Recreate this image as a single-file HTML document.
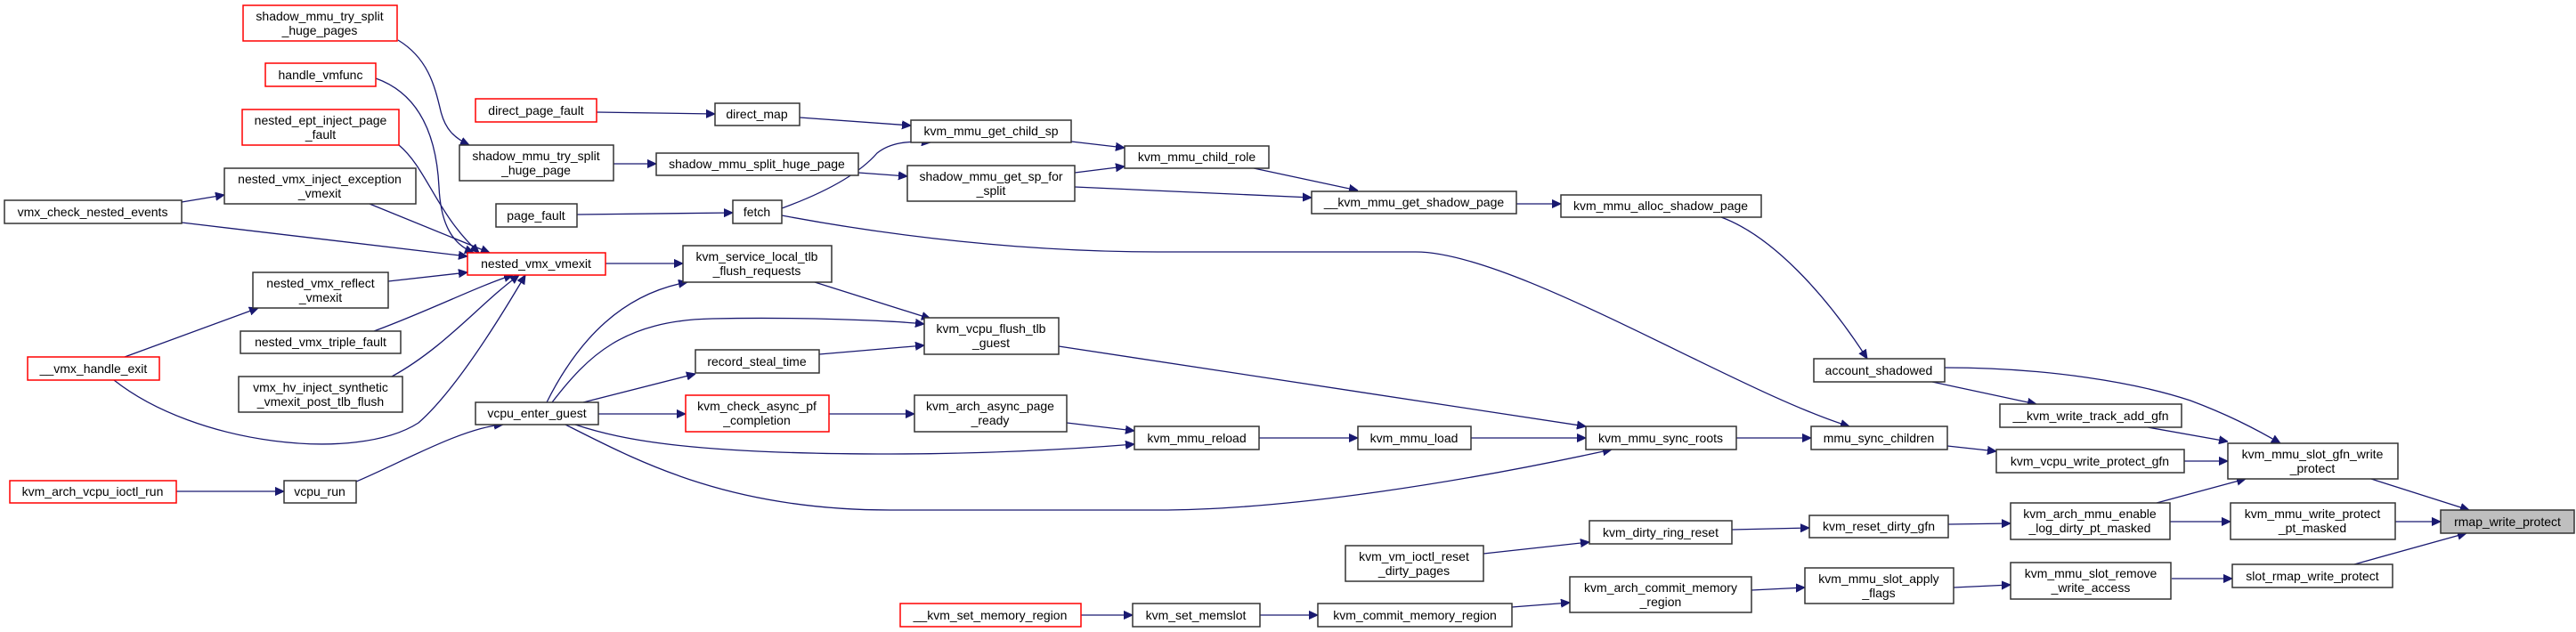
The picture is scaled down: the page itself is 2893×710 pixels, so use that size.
<!DOCTYPE html>
<html><head><meta charset="utf-8">
<style>
html,body{margin:0;padding:0;background:#fff;}
svg{display:block;}
text{font-family:"Liberation Sans",sans-serif;font-size:14px;fill:#000;text-anchor:middle;}
.n{fill:#fff;stroke:#333;stroke-width:1.5;}
.r{fill:#fff;stroke:#ff0000;stroke-width:1.5;}
.g{fill:#bfbfbf;stroke:#333;stroke-width:1.5;}
path{fill:none;stroke:#191970;stroke-width:1.3;}
</style></head><body>
<svg width="2893" height="710" viewBox="0 0 2893 710" xmlns="http://www.w3.org/2000/svg">
<defs><marker id="a" viewBox="0 0 10 10" refX="10" refY="5" markerWidth="10" markerHeight="10" markerUnits="userSpaceOnUse" orient="auto"><path d="M0,0.5 L10,5 L0,9.5 z" style="fill:#191970;stroke:#191970;stroke-width:1"/></marker></defs>

<!-- edges -->
<g marker-end="url(#a)">
<path d="M447,45 C480,65 488,95 495,125 C500,145 510,155 527,163"/>
<path d="M422,88 C470,105 490,150 493,210 C495,255 510,275 532,284"/>
<path d="M448,163 C480,190 490,240 538,284"/>
<path d="M204,227 L252,219"/>
<path d="M204,250 L525,288"/>
<path d="M415,229 L550,284"/>
<path d="M436,316 L525,306"/>
<path d="M140,401 L290,346"/>
<path d="M420,372 C480,350 540,320 576,309"/>
<path d="M440,423 C500,390 540,340 583,309"/>
<path d="M128,427 C220,500 400,520 470,475 C510,440 560,360 590,309"/>
<path d="M680,296 L767,296"/>
<path d="M670,126 L803,128"/>
<path d="M898,132 L1023,141"/>
<path d="M689,184 L737,184"/>
<path d="M964,194 L1019,198"/>
<path d="M648,241 L823,239"/>
<path d="M878,234 C930,215 965,195 985,172 C1000,160 1020,158 1045,160"/>
<path d="M878,242 C1000,265 1150,283 1300,283 L1590,283 C1700,283 1950,440 2077,479"/>
<path d="M1203,159 L1263,166"/>
<path d="M1207,194 L1263,187"/>
<path d="M1207,210 L1473,222"/>
<path d="M1408,189 L1525,214"/>
<path d="M1703,229 L1753,229"/>
<path d="M1933,244 C1990,265 2050,330 2097,403"/>
<path d="M915,317 L1045,358"/>
<path d="M614,452 C650,380 700,330 772,317"/>
<path d="M620,452 C660,400 700,360 800,358 C900,356 1000,360 1038,364"/>
<path d="M655,452 L781,420"/>
<path d="M920,398 L1038,388"/>
<path d="M672,465 L770,465"/>
<path d="M931,465 L1027,465"/>
<path d="M1198,475 L1274,484"/>
<path d="M646,477 C700,495 780,510 1000,510 C1100,510 1200,505 1274,499"/>
<path d="M635,477 C720,520 820,573 1000,573 L1300,573 C1450,573 1650,540 1810,505"/>
<path d="M1189,389 L1781,479"/>
<path d="M1414,492 L1525,492"/>
<path d="M1652,492 L1781,492"/>
<path d="M1950,492 L2034,492"/>
<path d="M198,552 L319,552"/>
<path d="M400,541 C450,520 520,480 565,477"/>
<path d="M2184,413 C2300,413 2400,430 2460,450 C2500,465 2530,480 2561,498"/>
<path d="M2170,429 L2287,454"/>
<path d="M2412,480 L2502,496"/>
<path d="M2187,501 L2242,507"/>
<path d="M2453,518 L2502,518"/>
<path d="M2422,565 L2522,538"/>
<path d="M2437,586 L2505,586"/>
<path d="M2663,538 L2773,573"/>
<path d="M2690,586 L2741,586"/>
<path d="M2644,634 L2770,599"/>
<path d="M2439,650 L2507,650"/>
<path d="M1945,595 L2032,593"/>
<path d="M2188,589 L2258,588"/>
<path d="M1666,622 L1785,609"/>
<path d="M1967,663 L2027,660"/>
<path d="M2194,660 L2258,657"/>
<path d="M1214,691 L1272,691"/>
<path d="M1415,691 L1480,691"/>
<path d="M1698,682 L1763,677"/>
</g>

<!-- nodes -->
<rect class="r" x="273" y="6" width="173" height="40"/><text x="359" y="23">shadow_mmu_try_split</text><text x="359" y="39">_huge_pages</text>
<rect class="r" x="298" y="71" width="124" height="26"/><text x="360" y="89">handle_vmfunc</text>
<rect class="r" x="272" y="123" width="176" height="40"/><text x="360" y="140">nested_ept_inject_page</text><text x="360" y="156">_fault</text>
<rect class="r" x="534" y="111" width="136" height="26"/><text x="602" y="129">direct_page_fault</text>
<rect class="n" x="803" y="116" width="95" height="25"/><text x="850" y="133">direct_map</text>
<rect class="n" x="516" y="163" width="173" height="40"/><text x="602" y="180">shadow_mmu_try_split</text><text x="602" y="196">_huge_page</text>
<rect class="n" x="737" y="172" width="227" height="25"/><text x="850" y="189">shadow_mmu_split_huge_page</text>
<rect class="n" x="252" y="189" width="215" height="40"/><text x="359" y="206">nested_vmx_inject_exception</text><text x="359" y="222">_vmexit</text>
<rect class="n" x="5" y="225" width="199" height="26"/><text x="104" y="243">vmx_check_nested_events</text>
<rect class="n" x="557" y="229" width="91" height="26"/><text x="602" y="247">page_fault</text>
<rect class="n" x="823" y="225" width="55" height="26"/><text x="850" y="243">fetch</text>
<rect class="r" x="525" y="284" width="155" height="25"/><text x="602" y="301">nested_vmx_vmexit</text>
<rect class="n" x="767" y="276" width="167" height="41"/><text x="850" y="293">kvm_service_local_tlb</text><text x="850" y="309">_flush_requests</text>
<rect class="n" x="284" y="306" width="152" height="40"/><text x="360" y="323">nested_vmx_reflect</text><text x="360" y="339">_vmexit</text>
<rect class="n" x="270" y="372" width="180" height="25"/><text x="360" y="389">nested_vmx_triple_fault</text>
<rect class="r" x="31" y="401" width="148" height="26"/><text x="105" y="419">__vmx_handle_exit</text>
<rect class="n" x="268" y="423" width="184" height="40"/><text x="360" y="440">vmx_hv_inject_synthetic</text><text x="360" y="456">_vmexit_post_tlb_flush</text>
<rect class="n" x="534" y="452" width="138" height="25"/><text x="603" y="469">vcpu_enter_guest</text>
<rect class="n" x="781" y="393" width="139" height="26"/><text x="850" y="411">record_steal_time</text>
<rect class="r" x="770" y="444" width="161" height="41"/><text x="850" y="461">kvm_check_async_pf</text><text x="850" y="477">_completion</text>
<rect class="r" x="11" y="540" width="187" height="25"/><text x="104" y="557">kvm_arch_vcpu_ioctl_run</text>
<rect class="n" x="319" y="540" width="81" height="25"/><text x="359" y="557">vcpu_run</text>
<rect class="n" x="1023" y="135" width="180" height="25"/><text x="1113" y="152">kvm_mmu_get_child_sp</text>
<rect class="n" x="1263" y="164" width="162" height="25"/><text x="1344" y="181">kvm_mmu_child_role</text>
<rect class="n" x="1019" y="186" width="188" height="40"/><text x="1113" y="203">shadow_mmu_get_sp_for</text><text x="1113" y="219">_split</text>
<rect class="n" x="1473" y="215" width="230" height="25"/><text x="1588" y="232">__kvm_mmu_get_shadow_page</text>
<rect class="n" x="1753" y="219" width="225" height="25"/><text x="1865" y="236">kvm_mmu_alloc_shadow_page</text>
<rect class="n" x="1038" y="357" width="151" height="41"/><text x="1113" y="374">kvm_vcpu_flush_tlb</text><text x="1113" y="390">_guest</text>
<rect class="n" x="1027" y="444" width="171" height="41"/><text x="1112" y="461">kvm_arch_async_page</text><text x="1112" y="477">_ready</text>
<rect class="n" x="1274" y="479" width="140" height="26"/><text x="1344" y="497">kvm_mmu_reload</text>
<rect class="n" x="1525" y="479" width="127" height="26"/><text x="1588" y="497">kvm_mmu_load</text>
<rect class="n" x="1781" y="479" width="169" height="26"/><text x="1865" y="497">kvm_mmu_sync_roots</text>
<rect class="n" x="1785" y="585" width="160" height="26"/><text x="1865" y="603">kvm_dirty_ring_reset</text>
<rect class="n" x="1511" y="613" width="155" height="40"/><text x="1588" y="630">kvm_vm_ioctl_reset</text><text x="1588" y="646">_dirty_pages</text>
<rect class="n" x="1763" y="648" width="204" height="40"/><text x="1865" y="665">kvm_arch_commit_memory</text><text x="1865" y="681">_region</text>
<rect class="r" x="1011" y="678" width="203" height="26"/><text x="1112" y="696">__kvm_set_memory_region</text>
<rect class="n" x="1272" y="678" width="143" height="26"/><text x="1343" y="696">kvm_set_memslot</text>
<rect class="n" x="1480" y="678" width="218" height="26"/><text x="1589" y="696">kvm_commit_memory_region</text>
<rect class="n" x="2037" y="403" width="147" height="26"/><text x="2110" y="421">account_shadowed</text>
<rect class="n" x="2246" y="454" width="204" height="26"/><text x="2348" y="472">__kvm_write_track_add_gfn</text>
<rect class="n" x="2034" y="479" width="153" height="26"/><text x="2110" y="497">mmu_sync_children</text>
<rect class="n" x="2242" y="505" width="211" height="26"/><text x="2347" y="523">kvm_vcpu_write_protect_gfn</text>
<rect class="n" x="2502" y="498" width="191" height="40"/><text x="2597" y="515">kvm_mmu_slot_gfn_write</text><text x="2597" y="531">_protect</text>
<rect class="n" x="2032" y="579" width="156" height="25"/><text x="2110" y="596">kvm_reset_dirty_gfn</text>
<rect class="n" x="2258" y="565" width="179" height="41"/><text x="2347" y="582">kvm_arch_mmu_enable</text><text x="2347" y="598">_log_dirty_pt_masked</text>
<rect class="n" x="2505" y="565" width="185" height="41"/><text x="2597" y="582">kvm_mmu_write_protect</text><text x="2597" y="598">_pt_masked</text>
<rect class="g" x="2741" y="573" width="150" height="26"/><text x="2816" y="591">rmap_write_protect</text>
<rect class="n" x="2027" y="638" width="167" height="40"/><text x="2110" y="655">kvm_mmu_slot_apply</text><text x="2110" y="671">_flags</text>
<rect class="n" x="2258" y="632" width="180" height="41"/><text x="2348" y="649">kvm_mmu_slot_remove</text><text x="2348" y="665">_write_access</text>
<rect class="n" x="2507" y="634" width="180" height="26"/><text x="2597" y="652">slot_rmap_write_protect</text>
</svg>
</body></html>
